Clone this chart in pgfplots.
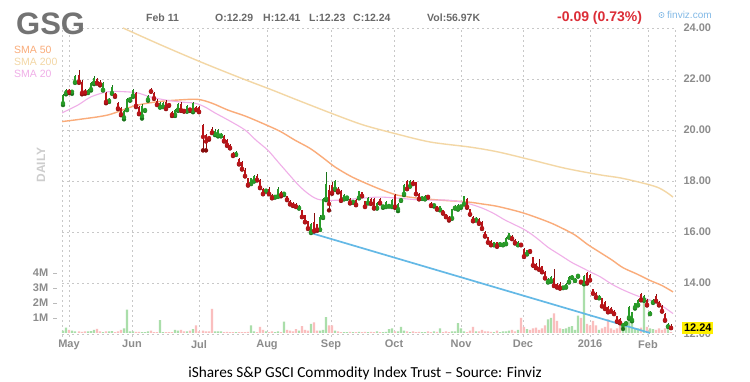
\documentclass[border=0pt]{standalone}
\usepackage{pgfplots}
\usepackage{pgfplotstable}
\pgfplotsset{compat=1.18}
\usepackage{fontspec}
\setmainfont{Liberation Sans}
\newfontfamily\carlito{Carlito}
\definecolor{cgreen}{RGB}{40,155,40}
\definecolor{cgreenD}{RGB}{25,115,25}
\definecolor{cred}{RGB}{185,20,25}
\definecolor{credD}{RGB}{135,12,12}
\definecolor{vgreen}{RGB}{170,222,170}
\definecolor{vred}{RGB}{250,190,190}
\definecolor{sma50}{RGB}{250,172,122}
\definecolor{sma200}{RGB}{243,215,165}
\definecolor{sma20}{RGB}{240,175,232}
\definecolor{trend}{RGB}{100,185,230}
\definecolor{gridc}{RGB}{200,200,200}
\definecolor{labc}{RGB}{140,140,140}
\definecolor{hdr}{RGB}{105,105,105}
\definecolor{gsgc}{RGB}{115,115,115}
\definecolor{chg}{RGB}{220,45,55}
\definecolor{fz}{RGB}{130,185,230}
\definecolor{daily}{RGB}{205,205,205}
\definecolor{ybox}{RGB}{255,240,0}

% x = position of the trading day, o h l c = price, v = volume (millions)
\pgfplotstableread{
x o h l c v
63 21.05 21.40 20.98 21.37 0.15
66 21.45 21.60 21.40 21.55 0.35
72 21.50 21.58 21.42 21.52 0.15
75 21.88 22.15 21.85 22.10 0.10
88 21.48 21.62 21.45 21.58 0.10
91 21.60 21.90 21.55 21.85 0.12
94 21.85 22.10 21.80 22.02 0.20
103 21.58 21.90 21.55 21.85 0.05
109 21.15 21.25 21.10 21.20 0.10
112 21.45 21.75 21.42 21.70 0.12
124 20.50 20.78 20.42 20.75 0.30
127 20.80 21.25 20.78 21.20 1.55
130 21.20 21.28 21.15 21.22 0.10
133 21.35 21.60 21.30 21.55 0.10
142 20.55 21.00 20.45 20.95 0.05
145 20.78 20.85 20.75 20.82 0.05
148 21.20 21.38 21.15 21.35 0.10
160 20.90 21.08 20.88 21.05 0.85
163 20.92 21.08 20.90 21.05 0.05
175 20.60 20.82 20.55 20.80 0.20
178 20.80 21.05 20.75 21.00 0.15
187 20.75 20.98 20.72 20.95 0.10
193 20.75 21.10 20.70 21.05 0.25
215 19.85 20.02 19.80 19.98 0.10
218 19.80 20.02 19.75 20.00 0.10
221 19.78 19.90 19.75 19.85 0.10
236 19.05 19.18 19.02 19.15 0.05
251 17.90 18.12 17.88 18.10 0.50
254 18.00 18.22 17.98 18.20 0.10
266 17.62 17.70 17.58 17.65 0.10
275 17.38 17.45 17.35 17.42 0.05
278 17.40 17.75 17.38 17.70 0.10
284 17.50 17.55 17.45 17.52 0.75
299 16.95 17.05 16.92 17.02 0.15
311 16.00 16.35 15.96 16.30 0.60
320 16.10 16.65 16.08 16.60 0.15
323 16.60 17.35 16.55 17.30 0.20
326 17.30 18.35 17.25 17.90 1.05
335 17.70 18.05 17.65 18.00 0.15
344 17.30 17.50 17.28 17.45 0.05
347 17.35 17.42 17.30 17.38 0.05
353 17.18 17.25 17.15 17.22 0.05
359 17.35 17.62 17.32 17.60 0.08
368 17.15 17.38 17.12 17.35 0.05
377 16.95 17.18 16.92 17.15 0.10
383 17.00 17.05 16.95 17.02 0.05
386 17.00 17.22 16.98 17.18 0.08
389 17.02 17.10 17.00 17.08 0.25
392 17.00 17.28 16.98 17.25 0.30
398 16.90 17.12 16.82 17.10 0.10
401 17.25 17.32 17.22 17.30 0.40
404 17.50 17.88 17.45 17.85 0.15
410 17.80 18.02 17.78 18.00 0.05
422 17.32 17.40 17.30 17.35 0.05
425 17.30 17.45 17.28 17.42 0.05
434 17.05 17.10 17.00 17.07 0.10
440 16.88 17.02 16.85 17.00 0.30
452 16.55 16.92 16.52 16.90 0.10
455 16.95 17.05 16.92 17.00 0.10
458 16.90 17.10 16.88 17.05 0.65
461 17.00 17.05 16.95 17.02 0.30
464 17.10 17.42 17.08 17.40 0.10
476 16.48 16.58 16.45 16.55 0.10
494 15.50 15.62 15.48 15.60 0.05
500 15.52 15.58 15.50 15.55 0.05
503 15.50 15.60 15.48 15.58 0.10
506 15.55 15.80 15.52 15.75 0.10
509 15.80 15.98 15.78 15.95 0.15
518 15.50 15.65 15.48 15.62 0.20
527 15.15 15.30 15.12 15.28 0.25
548 14.05 14.18 14.02 14.15 0.90
551 14.10 14.28 14.05 14.25 1.00
563 13.82 13.90 13.80 13.85 0.25
566 13.85 14.00 13.82 13.95 0.30
569 14.05 14.28 14.02 14.25 0.40
572 14.22 14.30 14.20 14.27 0.45
575 14.10 14.18 14.08 14.15 0.20
578 14.28 14.35 14.25 14.32 1.15
584 14.00 14.32 13.95 14.28 3.40
599 13.42 13.52 13.40 13.50 0.20
623 12.35 12.45 12.20 12.40 0.30
626 12.42 12.50 12.40 12.47 0.50
629 12.65 13.08 12.60 13.05 0.90
632 12.55 12.88 12.50 12.85 0.80
635 13.05 13.22 13.00 13.20 0.30
638 13.15 13.38 13.12 13.35 0.30
644 13.35 13.52 13.30 13.50 2.10
650 12.80 12.90 12.78 12.88 0.30
653 13.25 13.38 13.22 13.35 0.25
668 12.30 12.42 12.28 12.40 0.45
}\up

\pgfplotstableread{
x o h l c v
69 21.55 21.62 21.45 21.50 0.20
79 22.15 22.35 21.85 21.90 0.10
82 21.90 21.95 21.40 21.45 0.08
85 21.50 21.60 21.42 21.48 0.10
97 22.00 22.05 21.82 21.85 0.28
100 21.90 21.95 21.75 21.80 0.10
106 21.45 21.50 21.05 21.10 0.10
115 21.40 21.45 21.30 21.35 0.05
118 21.05 21.10 20.82 20.85 0.10
121 20.85 20.90 20.58 20.62 0.20
136 21.45 21.50 20.90 20.95 0.08
139 20.90 20.95 20.62 20.65 0.08
151 21.60 21.65 21.50 21.52 0.15
154 21.45 21.50 21.22 21.25 0.05
157 21.15 21.20 20.98 21.00 0.05
166 21.10 21.18 20.82 20.85 0.05
169 21.00 21.05 20.95 20.98 0.05
172 20.70 20.75 20.55 20.60 0.05
181 21.00 21.08 20.75 20.78 0.20
184 20.78 20.82 20.72 20.75 0.10
190 20.82 20.85 20.75 20.80 0.15
196 20.90 20.95 20.78 20.80 0.50
199 20.90 20.95 20.70 20.72 0.10
203 20.20 20.25 19.20 19.73 0.15
206 19.80 19.85 19.20 19.55 0.10
209 19.70 19.75 19.62 19.68 0.10
212 20.05 20.10 19.88 19.90 1.60
224 19.78 19.82 19.55 19.58 0.05
227 19.60 19.65 19.38 19.42 0.08
230 19.40 19.45 19.28 19.30 0.05
233 19.10 19.15 18.98 19.02 0.05
239 18.88 18.92 18.65 18.68 0.05
242 18.75 18.78 18.45 18.48 0.05
245 18.45 18.50 18.18 18.20 0.05
248 18.10 18.12 17.82 17.85 0.08
257 18.20 18.28 18.02 18.05 0.05
260 18.05 18.08 17.72 17.75 0.40
263 17.70 17.72 17.48 17.50 0.20
269 17.70 17.75 17.48 17.50 0.05
272 17.45 17.50 17.32 17.35 0.10
281 17.55 17.60 17.40 17.45 0.05
287 17.40 17.42 17.25 17.28 0.20
290 17.22 17.25 17.08 17.10 0.15
293 17.15 17.18 17.02 17.05 0.10
296 17.10 17.12 16.98 17.00 0.25
302 16.85 16.88 16.58 16.60 0.45
305 16.65 16.68 16.38 16.40 0.20
308 16.42 16.45 16.12 16.15 0.15
314 16.40 16.75 16.02 16.05 0.70
317 16.30 16.32 16.05 16.10 0.15
329 17.65 17.85 16.85 17.10 0.50
332 17.85 17.95 17.50 17.55 0.50
338 17.70 17.75 17.55 17.62 0.10
341 17.60 17.65 17.22 17.25 0.05
350 17.30 17.32 17.12 17.15 0.08
356 17.25 17.28 17.05 17.08 0.05
362 17.55 17.58 17.40 17.42 0.05
365 17.20 17.22 16.98 17.00 0.08
371 17.30 17.32 17.10 17.12 0.08
374 17.30 17.32 16.92 16.95 0.05
380 17.30 17.35 17.12 17.15 0.05
395 17.45 17.50 16.95 17.00 0.10
407 18.00 18.05 17.68 17.70 0.10
413 18.00 18.05 17.88 17.90 0.10
416 17.95 17.98 17.48 17.50 0.05
419 17.50 17.52 17.28 17.30 0.08
428 17.42 17.45 17.35 17.38 0.10
431 17.15 17.18 17.02 17.05 0.05
437 17.00 17.02 16.88 16.90 0.08
443 16.85 16.88 16.72 16.75 0.05
446 16.70 16.72 16.58 16.60 0.10
449 16.60 16.62 16.45 16.50 0.05
467 17.30 17.35 16.95 17.00 0.05
470 16.90 16.92 16.68 16.70 0.15
473 16.60 16.62 16.42 16.45 0.40
479 16.50 16.55 16.32 16.35 0.10
482 16.40 16.42 16.12 16.15 0.20
485 16.00 16.02 15.82 15.85 0.10
488 15.80 15.82 15.58 15.60 0.10
491 15.65 15.68 15.48 15.50 0.08
497 15.60 15.62 15.42 15.45 0.15
512 15.85 15.88 15.72 15.75 0.20
515 15.70 15.72 15.55 15.58 0.10
521 15.55 15.58 15.48 15.50 1.00
524 15.35 15.38 15.02 15.05 0.40
530 15.28 15.32 15.22 15.25 0.20
533 15.00 15.02 14.68 14.70 0.30
536 14.75 14.78 14.58 14.60 0.35
539 14.60 14.95 14.52 14.55 0.20
542 14.65 14.68 14.42 14.45 0.30
545 14.45 14.48 14.18 14.20 0.50
554 14.20 14.55 13.88 13.90 1.30
557 13.95 14.00 13.82 13.85 0.80
560 13.95 14.02 13.78 13.80 0.30
581 14.08 14.10 14.02 14.05 1.00
587 14.38 14.45 13.98 14.02 0.60
590 14.30 14.35 14.10 14.12 0.50
593 13.75 13.78 13.58 13.60 0.80
596 13.62 13.65 13.42 13.45 0.50
602 13.40 13.42 13.08 13.10 0.30
605 13.25 13.28 12.98 13.00 0.40
608 13.07 13.10 12.85 12.88 0.90
611 13.02 13.05 12.88 12.90 0.30
614 12.92 12.95 12.78 12.80 0.20
617 12.70 12.72 12.48 12.50 0.30
620 12.60 12.62 12.42 12.45 0.50
641 13.55 13.60 13.32 13.35 0.35
647 13.35 13.38 13.12 13.15 0.40
656 13.50 13.55 13.28 13.30 0.20
659 13.25 13.28 13.12 13.15 0.30
662 13.10 13.12 12.88 12.90 0.20
665 12.80 12.82 12.52 12.55 0.30
671 12.29 12.41 12.23 12.24 0.06
}\dn

\begin{document}
\begin{tikzpicture}[x=1pt,y=1pt]
\fill[white] (0,0) rectangle (750,382);
\coordinate (Pbl) at (62pt,45.45pt);
\coordinate (Vbl) at (62pt,49pt);

% grid and price labels
\begin{axis}[at={(Pbl)}, anchor=south west, scale only axis,
  width=613pt, height=308.55pt,
  xmin=62, xmax=675, ymin=11.9, ymax=24,
  axis line style={draw=none}, major tick length=0pt,
  xtick={69,132,199,267,331,394,461,523,590,648},
  xticklabels={May,Jun,Jul,Aug,Sep,Oct,Nov,Dec,2016,Feb},
  extra x ticks={62,675}, extra x tick labels={},
  extra x tick style={grid=major},
  ytick={12,14,16,18,20,22,24},
  yticklabel pos=right,
  yticklabel={\pgfmathprintnumber[fixed,fixed zerofill,precision=2]{\tick}},
  /pgf/number format/assume math mode=true,
  grid=major,
  grid style={gridc, dash pattern=on 2pt off 3pt, line width=0.8pt},
  ticklabel style={font=\bfseries\fontsize{11}{13}\selectfont, text=labc},
  yticklabel style={xshift=5pt},
  clip=false]
\addplot[draw=none] coordinates {(62,12)};
\end{axis}

% volume
\begin{axis}[at={(Vbl)}, anchor=south west, scale only axis,
  width=613pt, height=66pt,
  xmin=62, xmax=675, ymin=0, ymax=4.4,
  axis line style={draw=none}, major tick length=0pt,
  xtick=\empty,
  ytick={1,2,3,4},
  yticklabels={{1M\hspace{5pt}\textcolor{labc!60}{\rule[3pt]{4pt}{0.8pt}}},
               {2M\hspace{5pt}\textcolor{labc!60}{\rule[3pt]{4pt}{0.8pt}}},
               {3M\hspace{5pt}\textcolor{labc!60}{\rule[3pt]{4pt}{0.8pt}}},
               {4M\hspace{5pt}\textcolor{labc!60}{\rule[3pt]{4pt}{0.8pt}}}},
  ticklabel style={font=\bfseries\fontsize{11}{13}\selectfont, text=labc},
  yticklabel style={xshift=-1.3pt}]
\addplot[ybar, bar width=2.4pt, bar shift=0pt, fill=vgreen, draw=none] table[x=x, y=v] {\up};
\addplot[ybar, bar width=2.4pt, bar shift=0pt, fill=vred, draw=none] table[x=x, y=v] {\dn};
\end{axis}

% price
\begin{axis}[at={(Pbl)}, anchor=south west, scale only axis,
  width=613pt, height=308.55pt,
  xmin=62, xmax=675, ymin=11.9, ymax=24, hide axis]
\addplot[sma200, line width=1.4pt, smooth] coordinates {
(123,24.0) (160,23.35) (200,22.68) (240,22.05) (272,21.57) (297,21.18) (335,20.6)
(363,20.2) (393,19.88) (430,19.53) (470,19.33) (498,19.14) (532,18.82) (565,18.5)
(600,18.24) (623,18.1) (657,17.76) (673,17.37)};
\addplot[sma50, line width=1.4pt, smooth] coordinates {
(62,20.33) (80,20.42) (108,20.59) (135,20.95) (158,21.11) (180,21.18) (198,21.2)
(212,21.05) (228,20.78) (245,20.55) (262,20.27) (280,19.95) (295,19.6) (310,19.28)
(322,18.94) (335,18.55) (350,18.2) (363,17.96) (380,17.68) (397,17.45) (417,17.33)
(440,17.25) (467,17.18) (482,17.1) (498,17.0) (523,16.75) (548,16.4) (562,16.15)
(575,15.88) (588,15.5) (600,15.2) (612,14.9) (623,14.6) (637,14.35) (650,14.1)
(662,13.9) (673,13.65)};
\addplot[sma20, line width=1.1pt, smooth] coordinates {
(62,20.67) (78,20.98) (91,21.3) (108,21.5) (125,21.5) (138,21.45) (150,21.3)
(165,21.18) (180,21.1) (195,21.05) (205,20.9) (215,20.67) (230,20.35) (245,20.0)
(256,19.6) (268,19.2) (278,18.75) (288,18.3) (297,17.9) (305,17.6) (314,17.35)
(322,17.25) (340,17.25) (363,17.33) (380,17.37) (397,17.33) (423,17.25) (447,17.25)
(465,17.15) (482,16.94) (495,16.7) (505,16.47) (525,16.08) (537,15.75) (548,15.4)
(560,15.1) (572,14.8) (582,14.6) (592,14.4) (600,14.25) (612,13.95) (623,13.73)
(637,13.5) (650,13.33) (662,13.1) (673,12.8)};
\addplot[trend, line width=1.7pt] coordinates {(311,15.96) (650,12.04)};
% wicks
\addplot[color=cgreenD, only marks, mark=none, error bars/.cd, y dir=plus, y explicit, error mark=none,
  error bar style={line width=0.8pt, draw=cgreenD}]
  table[x=x, y=l, y error expr=\thisrow{h}-\thisrow{l}] {\up};
\addplot[color=credD, only marks, mark=none, error bars/.cd, y dir=plus, y explicit, error mark=none,
  error bar style={line width=0.8pt, draw=credD}]
  table[x=x, y=l, y error expr=\thisrow{h}-\thisrow{l}] {\dn};
% bodies
\addplot[color=cgreen, only marks, mark=none, error bars/.cd, y dir=plus, y explicit, error mark=none,
  error bar style={line width=2.5pt, draw=cgreen}]
  table[x=x, y=o, y error expr=\thisrow{c}-\thisrow{o}] {\up};
\addplot[color=cred, only marks, mark=none, error bars/.cd, y dir=plus, y explicit, error mark=none,
  error bar style={line width=2.5pt, draw=cred}]
  table[x=x, y=c, y error expr=\thisrow{o}-\thisrow{c}] {\dn};
\end{axis}

% header
\node[anchor=base west, inner sep=0pt, font=\bfseries\fontsize{31}{31}\selectfont, text=gsgc] at (16,382-35) {GSG};
\node[anchor=base west, inner sep=0pt, font=\fontsize{10.5}{12}\selectfont, text=sma50] at (14,382-54) {SMA 50};
\node[anchor=base west, inner sep=0pt, font=\fontsize{10.5}{12}\selectfont, text=sma200] at (14,382-66) {SMA 200};
\node[anchor=base west, inner sep=0pt, font=\fontsize{10.5}{12}\selectfont, text=sma20] at (14,382-78) {SMA 20};
\node[anchor=base west, inner sep=0pt, font=\bfseries\fontsize{10.5}{12}\selectfont, text=hdr] at (146,382-21.5) {Feb 11};
\node[anchor=base west, inner sep=0pt, font=\bfseries\fontsize{10.5}{12}\selectfont, text=hdr] at (215,382-21.5) {O:12.29};
\node[anchor=base west, inner sep=0pt, font=\bfseries\fontsize{10.5}{12}\selectfont, text=hdr] at (263,382-21.5) {H:12.41};
\node[anchor=base west, inner sep=0pt, font=\bfseries\fontsize{10.5}{12}\selectfont, text=hdr] at (309,382-21.5) {L:12.23};
\node[anchor=base west, inner sep=0pt, font=\bfseries\fontsize{10.5}{12}\selectfont, text=hdr] at (353,382-21.5) {C:12.24};
\node[anchor=base west, inner sep=0pt, font=\bfseries\fontsize{10.5}{12}\selectfont, text=hdr] at (427,382-21.5) {Vol:56.97K};
\node[anchor=base west, inner sep=0pt, font=\bfseries\fontsize{14}{16}\selectfont, text=chg] at (557,382-21.3) {-0.09 (0.73\%)};
\draw[fz, line width=0.6pt] (661.5,382-15) circle (2.6pt);
\fill[fz] (661.5,382-15) circle (0.8pt);
\node[anchor=base west, inner sep=0pt, font=\fontsize{10}{12}\selectfont, text=fz] at (667,382-18.5) {finviz.com};
\node[rotate=90, inner sep=0pt, font=\bfseries\fontsize{12}{14}\selectfont, text=daily] at (41,382-165) {DAILY};
% last price box
\node[anchor=west, fill=ybox, inner xsep=1.8pt, inner ysep=2pt, font=\bfseries\fontsize{11}{13}\selectfont, text=black] at (682,382-328) {12.24};
% caption
\node[anchor=base, inner sep=0pt, font=\carlito\fontsize{15.3}{18}\selectfont, text=black] at (365,382-378) {iShares S\&P GSCI Commodity Index Trust – Source: Finviz};
\pgfresetboundingbox
\path[use as bounding box] (0,0) rectangle (750,382);
\end{tikzpicture}
\end{document}
